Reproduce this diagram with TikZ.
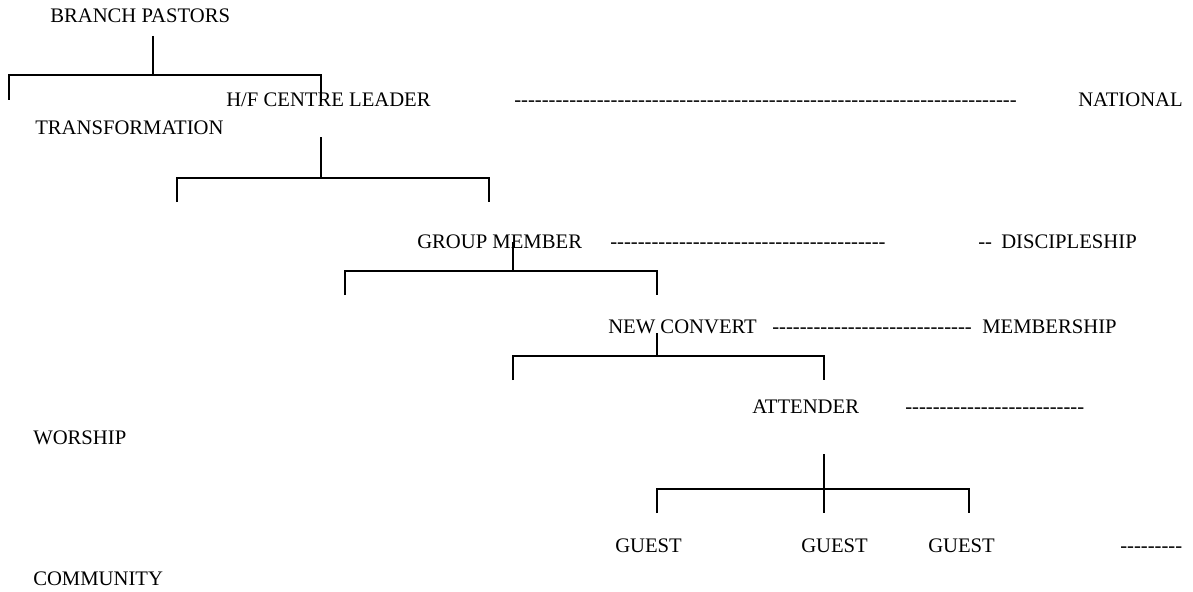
\documentclass[tikz,border=0pt]{standalone}
\usepackage{fontspec}
\newfontfamily\tf{Liberation Serif}
\ExplSyntaxOn
\cs_new:Npn \hyrep #1 {\prg_replicate:nn{#1}{-}}
\ExplSyntaxOff
\begin{document}
\begin{tikzpicture}[x=0.75pt,y=-0.75pt,
  txt/.style={inner sep=0pt,anchor=base west,font=\tf\fontsize{15.5}{18}\selectfont},
  brk/.style={line width=1.5pt}]
\useasboundingbox[fill=white] (0,0) rectangle (1193,592);
% texts
\node[txt] (bp) at (50,23) {BRANCH PASTORS};
\node[txt] (hf) at (226,107) {H/F CENTRE LEADER};
\node[txt] (d1) at (514,107) {\hyrep{73}};
\node[txt] (nat) at (1078,107) {NATIONAL};
\node[txt] (tr) at (35,134) {TRANSFORMATION};
\node[txt] (gm) at (417,248) {GROUP MEMBER};
\node[txt] (d2) at (610,248) {\hyrep{40}};
\node[txt] (d2b) at (978,248) {\hyrep{2}};
\node[txt] (dis) at (1001,248) {DISCIPLESHIP};
\node[txt] (nc) at (608,333) {NEW CONVERT};
\node[txt] (d3) at (772,333) {\hyrep{29}};
\node[txt] (mem) at (982,333) {MEMBERSHIP};
\node[txt] (att) at (752,413) {ATTENDER};
\node[txt] (d4) at (905,413) {\hyrep{26}};
\node[txt] (wor) at (33,444) {WORSHIP};
\node[txt] (g1) at (615,552) {GUEST};
\node[txt] (g2) at (801,552) {GUEST};
\node[txt] (g3) at (928,552) {GUEST};
\node[txt] (d5) at (1120,552) {\hyrep{9}};
\node[txt] (com) at (33,585) {COMMUNITY};
% bracket 1
\coordinate (a1) at (153,36);
\coordinate (a2) at (153,75);
\coordinate (a3) at (8.5,75);
\coordinate (a4) at (321,75);
\coordinate (a5) at (8.5,100);
\coordinate (a6) at (321,102);
\draw[brk] (a1) -- (a2);
\draw[brk] (a5) -- (a3) -- (a4) -- (a6);
% bracket 2
\coordinate (b1) at (321,137);
\coordinate (b2) at (321,178);
\coordinate (b3) at (177,178);
\coordinate (b4) at (489,178);
\coordinate (b5) at (177,202);
\coordinate (b6) at (489,202);
\draw[brk] (b1) -- (b2);
\draw[brk] (b5) -- (b3) -- (b4) -- (b6);
% bracket 3
\coordinate (c1) at (513,242);
\coordinate (c2) at (513,271);
\coordinate (c3) at (345,271);
\coordinate (c4) at (657,271);
\coordinate (c5) at (345,295);
\coordinate (c6) at (657,295);
\draw[brk] (c1) -- (c2);
\draw[brk] (c5) -- (c3) -- (c4) -- (c6);
% bracket 4
\coordinate (e1) at (657,333);
\coordinate (e2) at (657,356);
\coordinate (e3) at (513,356);
\coordinate (e4) at (824,356);
\coordinate (e5) at (513,380);
\coordinate (e6) at (824,380);
\draw[brk] (e1) -- (e2);
\draw[brk] (e5) -- (e3) -- (e4) -- (e6);
% bracket 5
\coordinate (f1) at (824,454);
\coordinate (f2) at (824,513);
\coordinate (f3) at (657,489);
\coordinate (f4) at (969,489);
\coordinate (f5) at (657,513);
\coordinate (f6) at (969,513);
\draw[brk] (f1) -- (f2);
\draw[brk] (f5) -- (f3) -- (f4) -- (f6);
\end{tikzpicture}
\end{document}
